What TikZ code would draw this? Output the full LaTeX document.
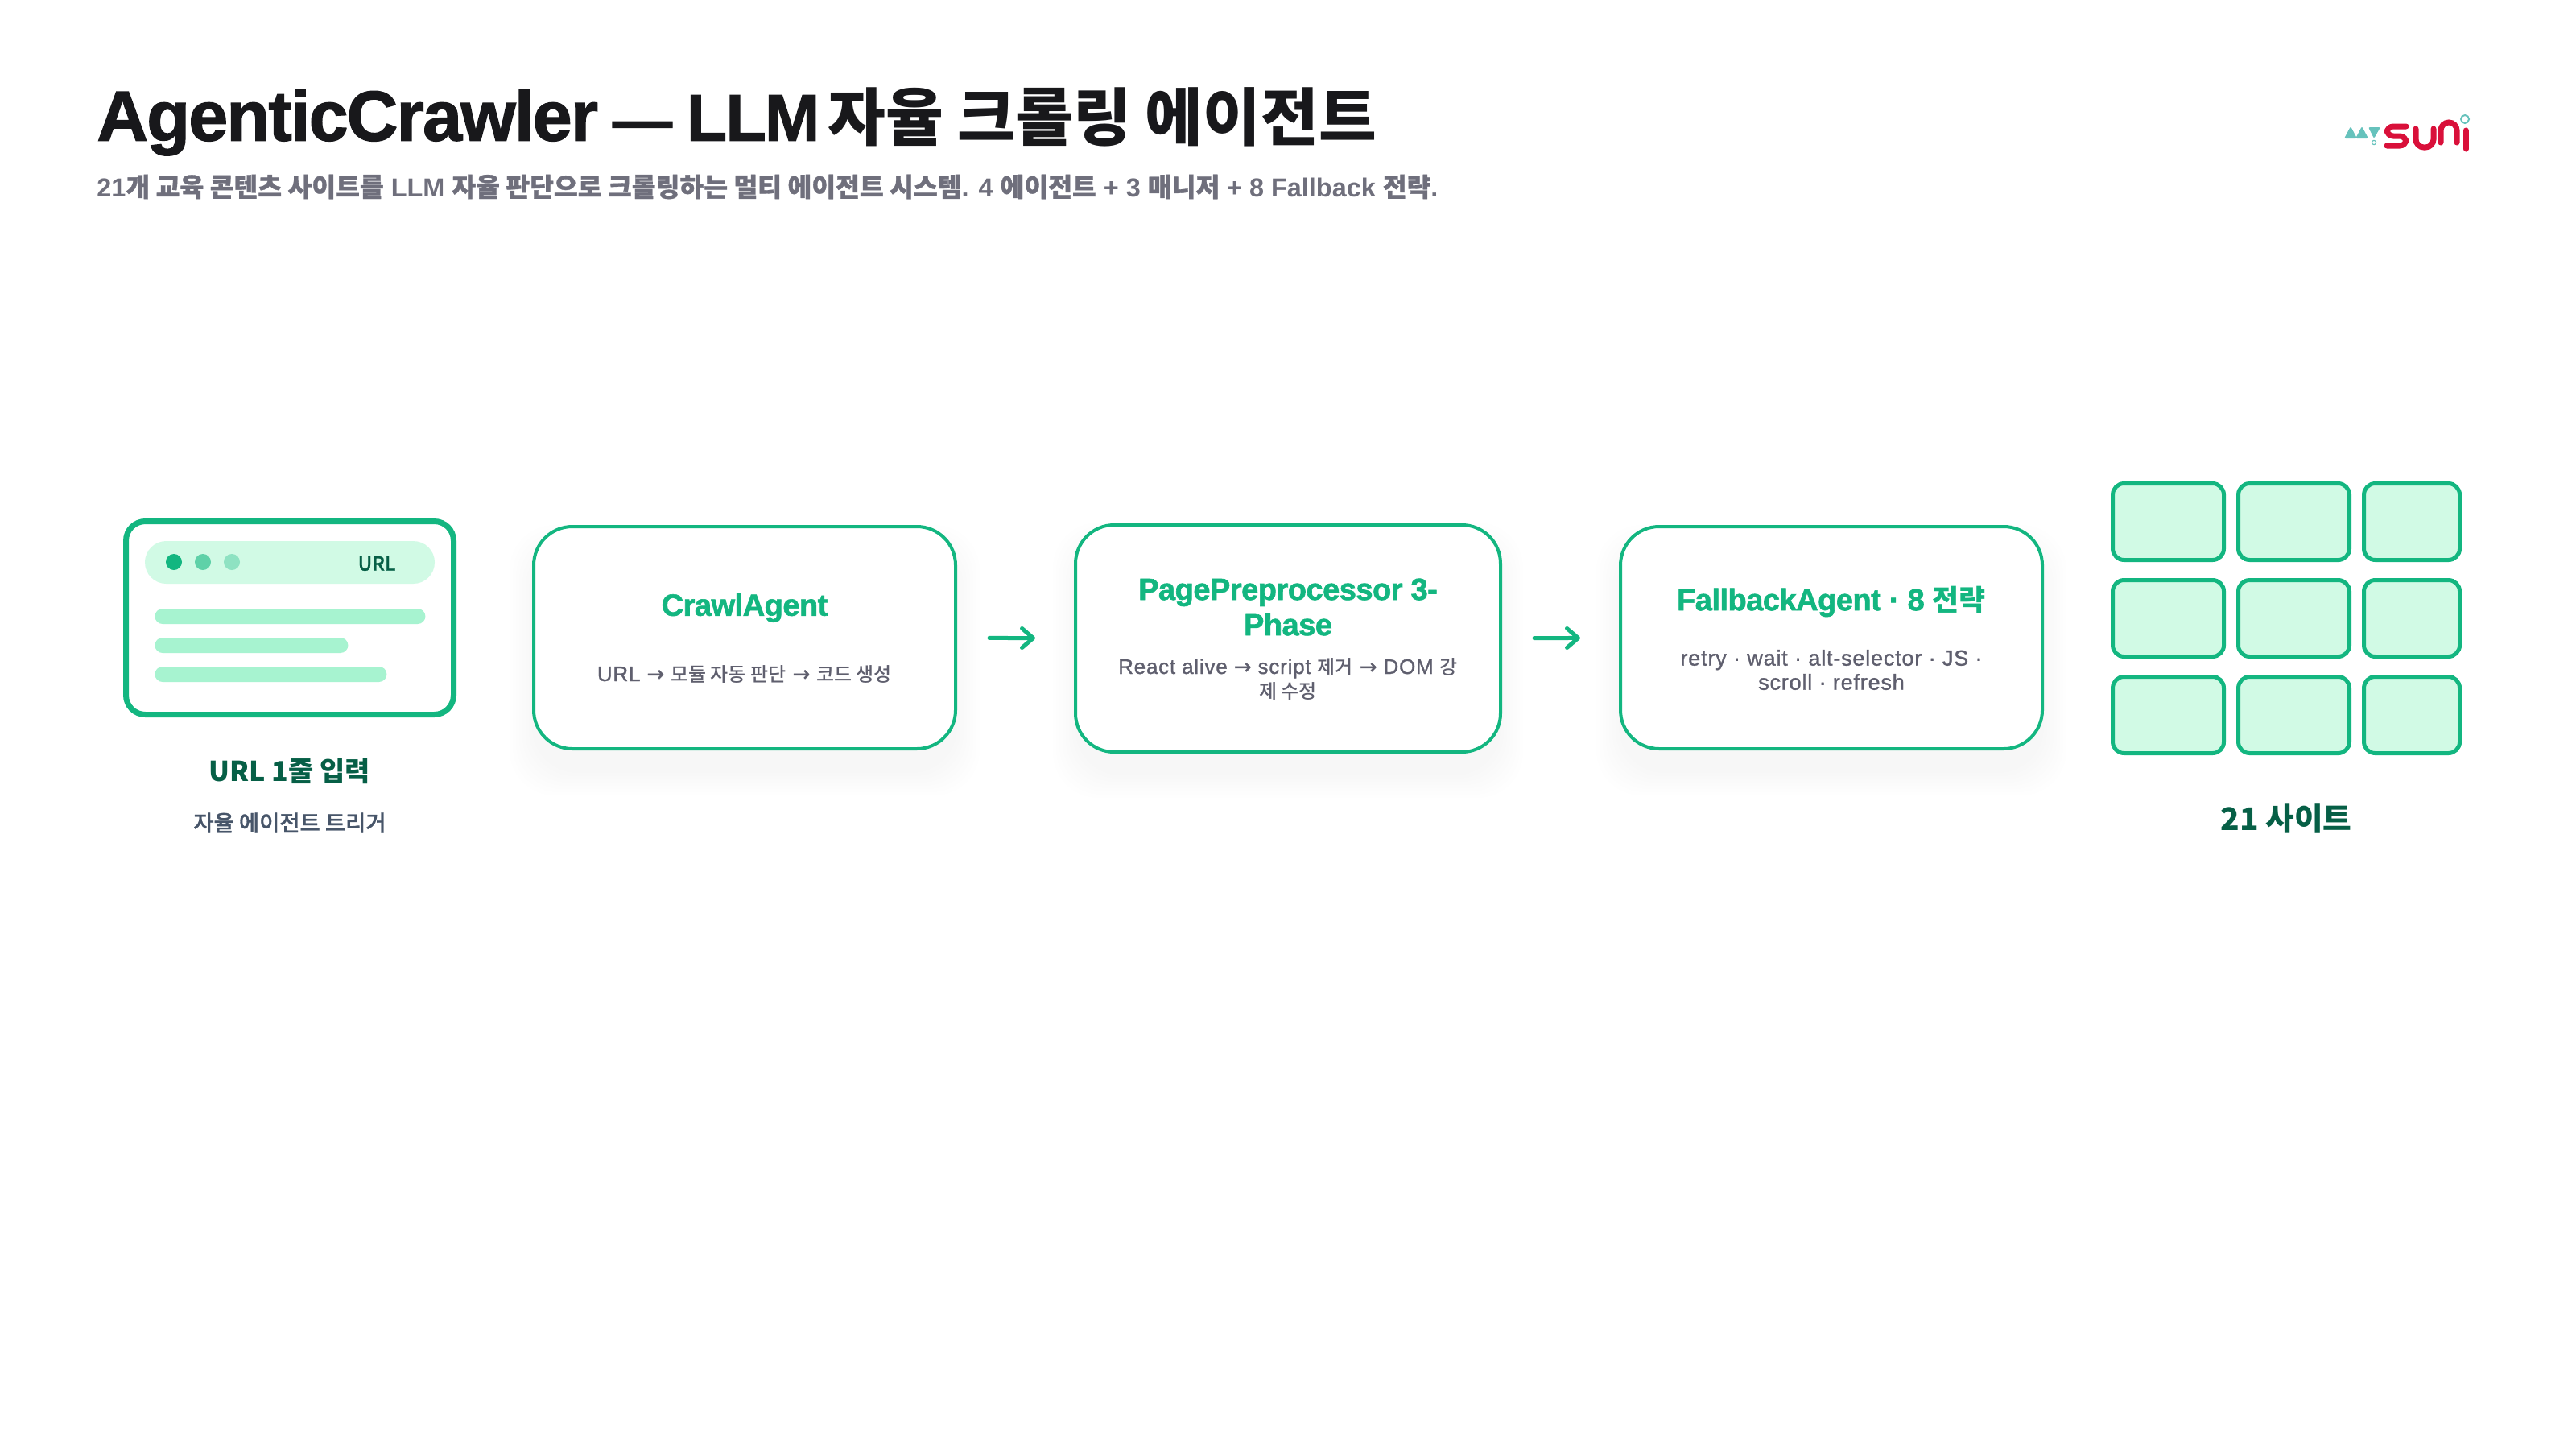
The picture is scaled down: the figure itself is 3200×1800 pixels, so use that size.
\documentclass[tikz,border=0pt]{standalone}
\usepackage{fontspec}
\setmainfont{Liberation Sans}
\newfontfamily\kofont{Noto Sans CJK KR}
\newfontfamily\komedium{Noto Sans CJK KR Medium}
\newfontfamily\kosemi[FakeBold=1]{Noto Sans CJK KR Medium}
\newfontfamily\titlefont[LetterSpace=-2,FakeBold=1.5]{Liberation Sans}
\newfontfamily\cardfont[LetterSpace=-1.3,FakeBold=1.6]{Liberation Sans}
\newfontfamily\notefont[LetterSpace=3,FakeBold=1.2]{Liberation Sans}
\newfontfamily\arrowfont[FakeBold=1]{DejaVu Sans}
\newcommand{\ko}[1]{{\kofont #1}}
\newcommand{\kos}[1]{{\kosemi #1}}
\newcommand{\kom}[1]{{\fontsize{12}{15}\selectfont\komedium #1}}
\newcommand{\flowmark}{{\arrowfont →}}
\usepackage{tikz}
\usetikzlibrary{positioning,arrows.meta,calc}
\definecolor{mintline}{HTML}{13B680}
\definecolor{mintfill}{HTML}{D1FAE5}
\definecolor{mintbar}{HTML}{A7F3D0}
\definecolor{pinedark}{HTML}{065F46}
\definecolor{titleink}{HTML}{18181B}
\definecolor{noteink}{HTML}{5F5F6E}
\definecolor{slateink}{HTML}{475569}
\definecolor{logoteal}{HTML}{66C2BC}
\definecolor{logored}{HTML}{D9103A}

\begin{document}
\begin{tikzpicture}[x=0.5pt,y=-0.5pt,
    card/.style={draw=mintline, line width=2pt, fill=white, rounded corners=24pt,
                 minimum width=262pt, inner sep=0pt},
    cardtitle/.style={font=\fontsize{19}{22}\selectfont\bfseries\cardfont, color=mintline,
                 align=center, inner sep=0pt},
    cardnote/.style={font=\fontsize{13.5}{15}\selectfont\notefont, color=noteink,
                 align=center, inner sep=0pt},
    flow/.style={draw=mintline, line width=2.5pt, line cap=round,
                 -{Straight Barb[length=7pt,width=12pt,round]},
                 shorten <=20pt, shorten >=24pt},
    bar/.style={fill=mintbar, minimum height=9.5pt, rounded corners=4.75pt,
                 inner sep=0pt, anchor=west},
    dot/.style={circle, minimum size=10pt, inner sep=0pt},
    sitecell/.style={draw=mintline, line width=2.5pt, fill=mintfill, rounded corners=7pt,
                 minimum height=47.5pt, inner sep=0pt},
    caption/.style={font=\fontsize{17}{22}\selectfont\bfseries, color=pinedark, inner sep=0pt},
    logostroke/.style={logored, line width=3.5pt, line cap=round},
]
\useasboundingbox (0,0) rectangle (3200,1800);

\node[font=\fontsize{44}{48}\selectfont\bfseries\titlefont, color=titleink, anchor=west, inner sep=0pt]
    (title) at (120,151) {AgenticCrawler\hspace{9pt}{\fontsize{37}{48}\selectfont —}\hspace{9pt}{\fontsize{41}{48}\selectfont LLM}\hspace{5pt}{\fontsize{39}{48}\selectfont\kofont 자율 크롤링 에이전트}};
\node[font=\fontsize{16.2}{20}\selectfont\bfseries, color=noteink!90, anchor=west, inner sep=0pt]
    (subtitle) at (120,232) {21\kos{개 교육 콘텐츠 사이트를} LLM \kos{자율 판단으로 크롤링하는 멀티 에이전트 시스템}. 4 \kos{에이전트} + 3 \kos{매니저} + 8 Fallback \kos{전략}.};

% logo
\fill[logoteal, rounded corners=1pt] (2912,172) -- (2920,157) -- (2928,172) -- cycle;
\fill[logoteal, rounded corners=1pt] (2926,172) -- (2934,157) -- (2942,172) -- cycle;
\fill[logoteal, rounded corners=1pt] (2942,158) -- (2957,158) -- (2949,172) -- cycle;
\draw[logoteal, line width=0.6pt] (2949,177) circle (2.6);
\draw[logostroke, rounded corners=4pt]
    (2989,157) -- (2965,157) -- (2965,169) -- (2989,169) -- (2989,181) -- (2965,181);
\draw[logostroke, rounded corners=5pt] (3001,160) -- (3001,183) -- (3023,183) -- (3023,160);
\draw[logostroke, rounded corners=5pt] (3032,177) -- (3032,152) -- (3052,152) -- (3052,177);
\draw[logostroke] (3063,162) -- (3063,185);
\draw[logoteal, line width=1pt] (3062,148) circle (5);

% url window
\node[draw=mintline, line width=3.5pt, fill=white, rounded corners=12pt, minimum width=203.5pt,
      minimum height=120pt, inner sep=0pt] (window) at (360,767.5) {};
\node[fill=mintfill, minimum width=180pt, minimum height=26.5pt, rounded corners=13.25pt,
      inner sep=0pt] (addr) at (360,698.5) {};
\node[dot, fill=mintline] (dota) at (216,698) {};
\node[dot, fill=mintline!60!mintfill] (dotb) at (252,698) {};
\node[dot, fill=mintline!35!mintfill] (dotc) at (288,698) {};
\node[font=\fontsize{12}{14}\selectfont\kosemi, color=pinedark, inner sep=0pt] (urltag) at (468,700) {URL};
\node[bar, minimum width=168pt] (bara) at (192,765.5) {};
\node[bar, minimum width=120pt] (barb) at (192,801.5) {};
\node[bar, minimum width=144pt] (barc) at (192,837.5) {};
\node[caption] (urlcap) at (360,958) {\ko{URL 1줄 입력}};
\node[font=\fontsize{13.7}{17}\selectfont\kosemi, color=slateink, inner sep=0pt] (urlnote) at (360,1022) {자율 에이전트 트리거};

% soft shadows under the cards
\foreach \cx/\ch in {925/138,1600/141,2275/138} {
  \foreach \g in {2,6,...,30}
    \fill[black, opacity=0.002, rounded corners=28pt]
      ($(\cx,820)+(-262-\g,-\ch-\g)$) rectangle ($(\cx,820)+(262+\g,\ch+\g)$);
}

% cards
\node[card, minimum height=138pt] (crawl) at (925,792) {};
\node[card, minimum height=141pt, minimum width=264pt] (prep) at (1600,793) {};
\node[card, minimum height=138pt] (fallback) at (2275,792) {};

\node[cardtitle] (crawltitle) at (925,755) {CrawlAgent};
\node[cardnote, font=\fontsize{13}{15}\selectfont\notefont] (crawlnote) at (925,837) {URL \flowmark{} \kom{모듈 자동 판단} \flowmark{} \kom{코드 생성}};
\node[cardtitle] (preptitle) at (1600,754) {PagePreprocessor 3-\\Phase};
\node[cardnote, font=\fontsize{13}{15}\selectfont\notefont] (prepnote) at (1600,843) {React alive \flowmark{} script \kom{제거} \flowmark{} DOM \kom{강}\\\kom{제 수정}};
\node[cardtitle] (fallbacktitle) at (2275,747) {FallbackAgent · 8 {\fontsize{18}{22}\selectfont\kofont 전략}};
\node[cardnote] (fallbacknote) at (2275,832) {retry · wait · alt-selector · JS ·\\scroll · refresh};

\draw[flow] (crawl) -- (prep);
\draw[flow] (prep) -- (fallback);

% site grid
\foreach \cx/\cw/\c in {2693.5/69pt/a,2849.5/69pt/b,2996/59.5pt/c}
  \foreach \ry/\r in {648/1,768/2,888/3}
    \node[sitecell, minimum width=\cw] (site\c\r) at (\cx,\ry) {};
\node[caption, font=\fontsize{19.4}{24}\selectfont\bfseries\kofont] (sitecap) at (2840,1017) {21 사이트};
\end{tikzpicture}
\end{document}
